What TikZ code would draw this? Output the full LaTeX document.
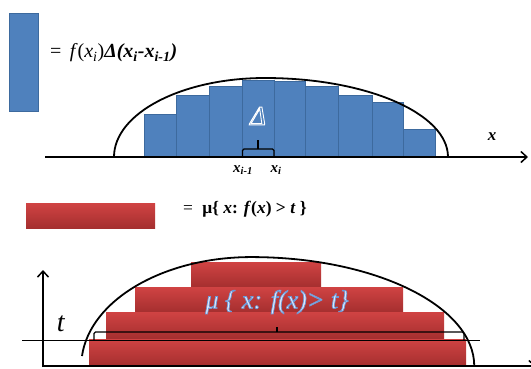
\documentclass[tikz,border=0pt]{standalone}
\usepackage{fontspec}
\setmainfont{Liberation Serif}[BoldFont={* Bold},ItalicFont={* Italic},BoldItalicFont={* Bold Italic}]
\usetikzlibrary{arrows.meta}
\definecolor{barblue}{HTML}{4F81BD}
\definecolor{barblueedge}{HTML}{3D6A9E}
\definecolor{redtop}{HTML}{D04343}
\definecolor{redbot}{HTML}{A52F2F}
\definecolor{lblue}{HTML}{DDE9FB}
\newcommand\myoutline[2]{\special{pdf:literal direct 1 Tr #1 w}#2\special{pdf:literal direct 0 Tr}}
\newcommand\myfillstroke[2]{\special{pdf:literal direct 2 Tr #1 w 0.42 0.6 0.85 RG}#2\special{pdf:literal direct 0 Tr}}
\tikzset{
  bluebar/.style={fill=barblue, draw=barblueedge, line width=0.8pt},
  redbar/.style={top color=redtop, bottom color=redbot, draw=none},
  axisline/.style={line width=1.5pt, -{Straight Barb[length=6pt,width=11pt]}},
  curveline/.style={line width=1.8pt},
  braceline/.style={line width=1.3pt, rounded corners=1.5pt},
  tline/.style={line width=1pt},
  lbl/.style={inner sep=0pt, font=\rmfamily},
}
\begin{document}
\begin{tikzpicture}[x=1pt,y=-1pt]
\useasboundingbox (0,0) rectangle (531,368);

% ---------- top part ----------
\draw[bluebar] (9,13) rectangle (38,111);
\node[lbl, anchor=west] (formula) at (50,53)
  {\fontsize{20}{22}\selectfont =\, \textit{f}(\textit{x}\textsubscript{\textit{i}})\textbf{\textit{Δ(x\textsubscript{i}-x\textsubscript{i-1})}}};

\draw[bluebar] (144,157) rectangle (176,114);
\draw[bluebar] (176,157) rectangle (209,95);
\draw[bluebar] (209,157) rectangle (242,86);
\draw[bluebar] (242,157) rectangle (274,80);
\draw[bluebar] (274,157) rectangle (305,81);
\draw[bluebar] (305,157) rectangle (338,86);
\draw[bluebar] (338,157) rectangle (372,95);
\draw[bluebar] (372,157) rectangle (403,102);
\draw[bluebar] (403,157) rectangle (435,129);

\coordinate (ax1s) at (45,157);
\coordinate (ax1e) at (528,157);
\draw[axisline] (ax1s) -- (ax1e);

\draw[curveline] (114,157) arc[start angle=180, end angle=270, x radius=151, y radius=79]
                 arc[start angle=270, end angle=360, x radius=183, y radius=79];

\draw[braceline] (242.5,157) -- (242.5,149) -- (274,149) -- (274,157);
\draw[braceline] (258,149) -- (258,140);
\node[lbl] (delta) at (258,116) {\fontsize{27}{29}\selectfont\color{white}\myoutline{0.9}{\textit{Δ}}};

\node[lbl] (xim1) at (243,170) {\fontsize{15}{17}\selectfont\textbf{\textit{x\textsubscript{i-1}}}};
\node[lbl] (xi) at (276,170) {\fontsize{15}{17}\selectfont\textbf{\textit{x\textsubscript{i}}}};
\node[lbl] (xlab) at (492,137) {\fontsize{17}{19}\selectfont\textbf{\textit{x}}};

% ---------- legend red ----------
\draw[redbar] (26,203) rectangle (155,228);
\node[lbl, anchor=west] (mulegend) at (183,209)
  {\fontsize{17.5}{19}\selectfont =\; \textbf{μ\{ \textit{x}: \textit{f}(\textit{x}) > \textit{t} \}}};

% ---------- bottom part ----------
\draw[redbar] (191,262) rectangle (321,287);
\draw[redbar] (135,287) rectangle (403,312);
\draw[redbar] (106,312) rectangle (444,339);
\draw[redbar] (89,339) rectangle (466,366);

\coordinate (ax2o) at (43,367);
\coordinate (ax2t) at (43,270);
\coordinate (ax2x) at (536,366);
\draw[axisline] (ax2o) -- (ax2t);
\draw[axisline] (43,366) -- (ax2x);

\coordinate (tl) at (22,340);
\coordinate (tr) at (480,340);
\draw[tline] (tl) -- (tr);

\draw[braceline] (94,340) -- (94,332) -- (464,332) -- (464,340);
\draw[braceline] (277,332) -- (277,327);

\draw[curveline] (82,356) arc[start angle=185.3, end angle=270, x radius=170, y radius=109]
                 arc[start angle=270, end angle=360, x radius=223, y radius=109];

\node[lbl] (tlab) at (61,324) {\fontsize{28}{30}\selectfont\textit{t}};
\node[lbl] (mutext) at (277,302) {\fontsize{26}{28}\selectfont\color{lblue}\myfillstroke{0.7}{\textit{μ \{ x: f(x)> t\}}}};
\end{tikzpicture}
\end{document}
